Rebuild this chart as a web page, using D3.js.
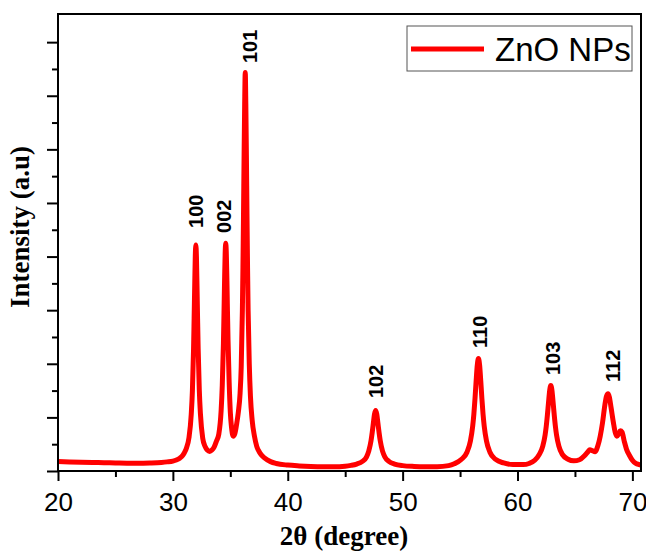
<!DOCTYPE html>
<html>
<head>
<meta charset="utf-8">
<script src="https://cdn.jsdelivr.net/npm/d3@7"></script>
<style>
  body { margin: 0; background: #fff; }
</style>
</head>
<body>
<div id="xrd"></div>
<script>
// XRD pattern (2θ in degree, intensity in a.u.)
const twoTheta = [
  20, 21, 22, 23, 24, 25, 26, 27, 28, 29, 29.5, 30, 30.3, 30.6, 30.85, 31, 31.2, 31.4,
  31.6, 31.7, 31.8, 31.85, 31.9, 31.95, 32, 32.05, 32.1, 32.15, 32.2, 32.3, 32.4, 32.6, 32.8,
  33, 33.2, 33.4, 33.6, 33.8, 34, 34.2, 34.3, 34.4, 34.45, 34.5, 34.55, 34.6, 34.65, 34.7,
  34.75, 34.8, 34.9, 35, 35.1, 35.25, 35.4, 35.55, 35.7, 35.85, 35.95, 36.05, 36.1, 36.15,
  36.2, 36.25, 36.3, 36.35, 36.4, 36.45, 36.5, 36.55, 36.65, 36.75, 36.9, 37.1, 37.3, 37.6,
  38, 38.5, 39, 40, 41, 42, 43, 44, 45, 45.5, 46, 46.5, 46.85, 47.05, 47.25, 47.35, 47.45,
  47.55, 47.65, 47.75, 47.85, 47.95, 48.05, 48.25, 48.45, 48.8, 49.3, 50, 51, 52, 53, 54,
  54.5, 55.1, 55.6, 55.9, 56.1, 56.2, 56.3, 56.4, 56.5, 56.6, 56.7, 56.8, 56.9, 57, 57.1,
  57.3, 57.6, 58.1, 58.8, 59.6, 60.5, 61, 61.5, 61.9, 62.2, 62.4, 62.5, 62.6, 62.7, 62.8,
  62.9, 63, 63.1, 63.2, 63.3, 63.4, 63.6, 63.9, 64.4, 64.9, 65.4, 65.85, 66.1, 66.3, 66.5,
  66.75, 67, 67.2, 67.4, 67.6, 67.75, 67.88, 68, 68.15, 68.35, 68.5, 68.65, 68.8, 68.95,
  69.1, 69.3, 69.5, 69.75, 70, 70.3, 70.6, 70.75
];
const intensity = [
  35, 34, 33, 32, 31, 30, 29, 29, 30, 32, 34, 37, 41, 48, 58, 68, 88, 124,
  212, 300, 455, 570, 690, 800, 843, 800, 690, 570, 458, 302, 212, 122, 92,
  78, 73, 78, 90, 112, 138, 225, 320, 475, 590, 710, 810, 850, 815, 720,
  600, 490, 330, 220, 165, 130, 140, 175, 220, 290, 390, 600, 760, 960,
  1180, 1370, 1487, 1370, 1180, 960, 760, 600, 400, 280, 190, 130, 92, 66,
  48, 35, 28, 22, 19, 17, 16, 16, 18, 21, 26, 36, 52, 74, 113, 143, 178,
  212, 226, 212, 178, 143, 113, 74, 53, 36, 26, 20, 17, 16, 16, 20,
  27, 43, 70, 112, 168, 212, 270, 337, 395, 420, 395, 337, 270, 212, 168,
  112, 70, 43, 30, 24, 24, 28, 40, 62, 93, 134, 166, 208, 256, 300,
  319, 300, 256, 208, 166, 134, 93, 62, 44, 38, 42, 58, 70, 79, 76,
  72, 95, 130, 180, 245, 280, 288, 275, 235, 180, 145, 130, 138, 150,
  145, 110, 80, 58, 40, 28, 24, 22
];

// Miller indices and where their labels sit (2θ, intensity at the label foot)
const peakHkl = ["100", "002", "101", "102", "110", "103", "112"];
const labelTheta = [32.0, 34.4, 36.7, 47.65, 56.65, 63.05, 68.25];
const labelIntensity = [907, 888, 1522, 272, 459, 358, 332];

const xMajorTicks = [20, 30, 40, 50, 60, 70];
const xMinorTicks = [25, 35, 45, 55, 65];
const yMajorTicks = [0, 200, 400, 600, 800, 1000, 1200, 1400, 1600];
const yMinorTicks = [100, 300, 500, 700, 900, 1100, 1300, 1500];

const seriesName = "ZnO NPs";

const WIDTH = 646, HEIGHT = 552,
    PLOT = { LEFT: 58, RIGHT: 641, TOP: 14, BOTTOM: 471 },
    SANS = "'Liberation Sans', Arial, sans-serif",
    SERIF = "'Liberation Serif', 'Times New Roman', serif";

const svg = d3.select("#xrd")
    .append("svg")
    .attr("width", WIDTH)
    .attr("height", HEIGHT);

const xScale = d3.scaleLinear()
    .domain([20, 70.75])
    .range([PLOT.LEFT, PLOT.RIGHT]);

const yScale = d3.scaleLinear()
    .domain([0, 1705])
    .range([PLOT.BOTTOM, PLOT.TOP]);

// Axes (ticks only, the frame is drawn separately)
function styleAxis(g) {
    g.select(".domain").remove();
    g.selectAll("line").attr("stroke", "#000").attr("stroke-width", 2);
}

svg.append("g")
    .attr("transform", `translate(0, ${PLOT.BOTTOM})`)
    .call(d3.axisBottom(xScale).tickValues(xMinorTicks).tickSize(6).tickFormat(""))
    .call(styleAxis);

svg.append("g")
    .attr("transform", `translate(0, ${PLOT.BOTTOM})`)
    .call(d3.axisBottom(xScale).tickValues(xMajorTicks).tickSize(10).tickPadding(12))
    .call(styleAxis)
    .selectAll("text")
    .style("font-family", SANS)
    .style("font-size", "26px")
    .attr("fill", "#000");

svg.append("g")
    .attr("transform", `translate(${PLOT.LEFT}, 0)`)
    .call(d3.axisLeft(yScale).tickValues(yMinorTicks).tickSize(6).tickFormat(""))
    .call(styleAxis);

svg.append("g")
    .attr("transform", `translate(${PLOT.LEFT}, 0)`)
    .call(d3.axisLeft(yScale).tickValues(yMajorTicks).tickSize(11).tickFormat(""))
    .call(styleAxis);

// Pattern
const line = d3.line()
    .x((d, i) => xScale(twoTheta[i]))
    .y(d => yScale(d))
    .curve(d3.curveMonotoneX);

svg.append("path")
    .datum(intensity)
    .attr("fill", "none")
    .attr("stroke", "#ff0000")
    .attr("stroke-width", 5)
    .attr("stroke-linejoin", "round")
    .attr("d", line);

// Frame
svg.append("rect")
    .attr("x", PLOT.LEFT)
    .attr("y", PLOT.TOP)
    .attr("width", PLOT.RIGHT - PLOT.LEFT)
    .attr("height", PLOT.BOTTOM - PLOT.TOP)
    .attr("fill", "none")
    .attr("stroke", "#000")
    .attr("stroke-width", 2);

// Peak labels
svg.selectAll(".hkl")
    .data(peakHkl)
    .join("text")
    .attr("class", "hkl")
    .attr("transform", (d, i) => `translate(${xScale(labelTheta[i]) + 7.5}, ${yScale(labelIntensity[i])}) rotate(-90)`)
    .attr("text-anchor", "start")
    .style("font-family", SANS)
    .style("font-size", "20px")
    .style("font-weight", "bold")
    .text(d => d);

// Legend
svg.append("rect")
    .attr("x", 407)
    .attr("y", 26)
    .attr("width", 225)
    .attr("height", 45)
    .attr("fill", "#fff")
    .attr("stroke", "#555")
    .attr("stroke-width", 1);

svg.append("line")
    .attr("x1", 411).attr("x2", 484)
    .attr("y1", 49).attr("y2", 49)
    .attr("stroke", "#ff0000")
    .attr("stroke-width", 5);

svg.append("text")
    .attr("x", 495)
    .attr("y", 61)
    .style("font-family", SANS)
    .style("font-size", "33px")
    .text(seriesName);

// Axis titles
svg.append("text")
    .attr("x", 344)
    .attr("y", 545)
    .attr("text-anchor", "middle")
    .style("font-family", SERIF)
    .style("font-size", "27px")
    .style("font-weight", "bold")
    .text("2θ (degree)");

svg.append("text")
    .attr("transform", "translate(29, 227) rotate(-90)")
    .attr("text-anchor", "middle")
    .style("font-family", SERIF)
    .style("font-size", "27px")
    .style("font-weight", "bold")
    .text("Intensity (a.u)");
</script>
</body>
</html>
